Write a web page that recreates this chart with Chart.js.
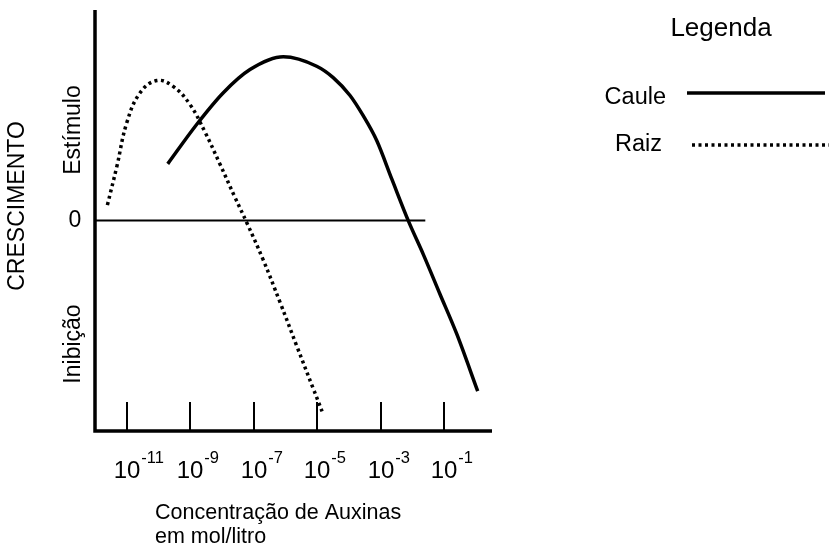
<!DOCTYPE html>
<html>
<head>
<meta charset="utf-8">
<script src="https://cdn.jsdelivr.net/npm/chart.js@4"></script>
<style>
  body { margin: 0; background: #fff; }
  canvas { display: block; }
</style>
</head>
<body>
<canvas id="chart" width="829" height="549"></canvas>
<script>
// x = log10 of the concentration (mol/litro), y = crescimento (arbitrary units, 0 = no effect)
const cauleX = [-9.71, -8.80, -7.96, -7.12, -6.07, -5.02, -4.50, -3.97, -3.56, -3.13, -2.65, -2.13, -1.66, -1.14, -0.61, 0.05];
const cauleY = [2.69, 4.56, 6.07, 7.17, 7.78, 7.33, 6.79, 5.94, 4.99, 3.80, 1.95, -0.03, -1.62, -3.49, -5.39, -8.11];

const raizX = [-11.61, -11.31, -11.00, -10.58, -10.05, -9.54, -9.01, -8.53, -8.06, -7.59, -7.21, -6.71, -6.17, -5.64, -5.13, -4.85];
const raizY = [0.73, 2.58, 4.64, 6.07, 6.65, 6.37, 5.51, 4.18, 2.66, 1.09, -0.14, -1.85, -3.90, -5.99, -7.98, -9.07];

const zeroX = [-12, -1.6];
const zeroY = [0, 0];

const tickExponents = [-11, -9, -7, -5, -3, -1];

const font = "Liberation Sans, Arial, sans-serif";

function toPoints(xs, ys) {
    return xs.map((x, i) => ({x: x, y: ys[i]}));
}

// axes, inner ticks, tick labels, titles and the legend
const decorations = {
    id: "decorations",
    afterDraw(chart) {
        const ctx = chart.ctx;
        const area = chart.chartArea;
        const xs = chart.scales.x;

        ctx.save();
        ctx.strokeStyle = "#000";
        ctx.fillStyle = "#000";

        // axis lines
        ctx.lineWidth = 3.5;
        ctx.beginPath();
        ctx.moveTo(area.left, area.top);
        ctx.lineTo(area.left, area.bottom);
        ctx.lineTo(area.right, area.bottom);
        ctx.stroke();

        // inner tick marks + labels 10^n
        ctx.lineWidth = 2;
        tickExponents.forEach(e => {
            const px = Math.round(xs.getPixelForValue(e));
            ctx.beginPath();
            ctx.moveTo(px, area.bottom - 29);
            ctx.lineTo(px, area.bottom);
            ctx.stroke();

            ctx.font = "24px " + font;
            ctx.textAlign = "center";
            ctx.textBaseline = "alphabetic";
            ctx.fillText("10", px, 478);
            const w = ctx.measureText("10").width;
            ctx.font = "16.5px " + font;
            ctx.textAlign = "left";
            ctx.fillText(String(e), px + w / 2 + 1, 463);
        });

        // x title
        ctx.font = "21.5px " + font;
        ctx.textAlign = "left";
        ctx.fillText("Concentração de Auxinas", 155, 519);
        ctx.fillText("em mol/litro", 155, 543);

        // y labels
        ctx.font = "23px " + font;
        ctx.textAlign = "center";
        ctx.textBaseline = "middle";
        ctx.fillText("0", 75, 221);
        const rotated = (text, x, y) => {
            ctx.save();
            ctx.translate(x, y);
            ctx.rotate(-Math.PI / 2);
            ctx.fillText(text, 0, 0);
            ctx.restore();
        };
        rotated("CRESCIMENTO", 18, 206);
        rotated("Estímulo", 74, 130);
        rotated("Inibição", 74, 344);

        // legend
        ctx.font = "26px " + font;
        ctx.fillText("Legenda", 721, 29);
        ctx.font = "23.5px " + font;
        ctx.textAlign = "right";
        ctx.fillText("Caule", 666, 98);
        ctx.fillText("Raiz", 662, 145);

        const caule = chart.data.datasets[0];
        const raiz = chart.data.datasets[1];
        ctx.lineWidth = caule.borderWidth;
        ctx.beginPath();
        ctx.moveTo(687, 93);
        ctx.lineTo(825, 93);
        ctx.stroke();
        ctx.lineWidth = raiz.borderWidth;
        ctx.setLineDash(raiz.borderDash);
        ctx.beginPath();
        ctx.moveTo(692, 145);
        ctx.lineTo(829, 145);
        ctx.stroke();

        ctx.restore();
    }
};

new Chart(document.getElementById("chart"), {
    type: "line",
    data: {
        datasets: [
            {
                label: "Caule",
                data: toPoints(cauleX, cauleY),
                borderColor: "#000",
                borderWidth: 3.5,
                pointRadius: 0,
                cubicInterpolationMode: "monotone"
            },
            {
                label: "Raiz",
                data: toPoints(raizX, raizY),
                borderColor: "#000",
                borderWidth: 3.5,
                borderDash: [3, 3.5],
                pointRadius: 0,
                tension: 0.4
            },
            {
                label: "zero",
                data: toPoints(zeroX, zeroY),
                borderColor: "#000",
                borderWidth: 2,
                pointRadius: 0
            }
        ]
    },
    options: {
        responsive: false,
        animation: false,
        layout: {
            padding: {left: 95, top: 10, right: 337, bottom: 118}
        },
        scales: {
            x: {type: "linear", min: -12, max: 0.5, display: false},
            y: {min: -10, max: 10, display: false}
        },
        plugins: {
            legend: {display: false},
            tooltip: {enabled: false}
        }
    },
    plugins: [decorations]
});
</script>
</body>
</html>
